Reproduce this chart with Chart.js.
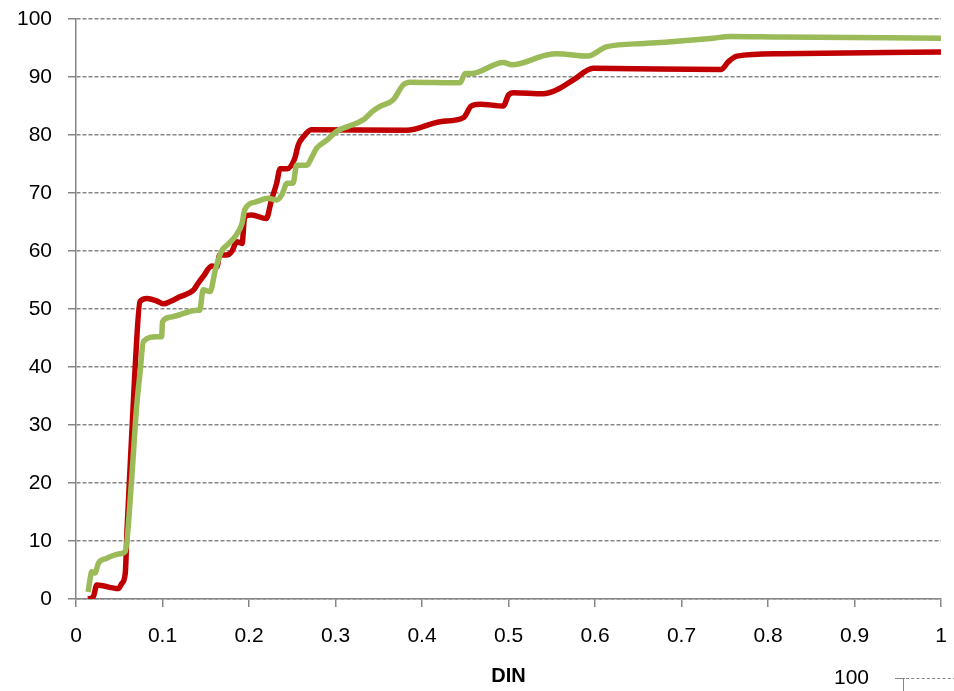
<!DOCTYPE html>
<html>
<head>
<meta charset="utf-8">
<script src="https://cdn.jsdelivr.net/npm/chart.js@4/dist/chart.umd.min.js"></script>
<style>
html,body{margin:0;padding:0;background:#fff;}
#wrap{position:relative;width:954px;height:691px;overflow:hidden;}
#c{position:absolute;left:0;top:0;}
.frag{position:absolute;font-family:"Liberation Sans","Open Sans",sans-serif;font-size:21px;color:#000;}
</style>
</head>
<body>
<div id="wrap">
<canvas id="c" width="954" height="691"></canvas>
<div class="frag" style="left:834px;top:665px;">100</div>
<div style="position:absolute;left:895px;top:678px;width:10px;height:0;border-top:1.5px solid #868686;"></div>
<div style="position:absolute;left:903px;top:678px;width:0;height:14px;border-left:1.5px solid #868686;"></div>
<div style="position:absolute;left:906px;top:678px;width:50px;height:0;border-top:1.5px dashed #868686;"></div>
</div>
<script>
const greenX = [0.014,0.017,0.018,0.022,0.026,0.035,0.051,0.057,0.064,0.070,0.074,0.078,0.093,0.099,0.100,0.109,0.140,0.143,0.147,0.155,0.161,0.168,0.176,0.184,0.192,0.195,0.209,0.222,0.232,0.238,0.244,0.251,0.255,0.267,0.272,0.278,0.290,0.301,0.313,0.332,0.338,0.342,0.351,0.367,0.378,0.386,0.444,0.450,0.457,0.494,0.504,0.544,0.556,0.592,0.613,0.660,0.737,0.756,0.814,1.0];
const greenY = [1.2,4.1,4.7,4.5,6.2,7.0,7.8,8.2,20,33,39,44.4,45.2,45.2,47.8,48.6,49.8,49.8,53.3,53.0,56.7,59.9,61.2,62.5,64.8,67.1,68.5,69.1,68.8,69.7,71.7,71.7,74.8,74.8,76.0,77.7,79.1,80.6,81.4,82.6,83.4,84.0,84.9,86.1,88.6,89.1,89.0,90.6,90.6,92.5,92.1,93.8,94.0,93.6,95.2,95.8,96.7,97.0,96.9,96.7];
const redX = [0.014,0.020,0.024,0.049,0.053,0.057,0.059,0.065,0.068,0.074,0.082,0.093,0.101,0.109,0.120,0.136,0.141,0.147,0.157,0.163,0.166,0.174,0.180,0.186,0.192,0.195,0.203,0.220,0.226,0.232,0.236,0.244,0.253,0.257,0.263,0.272,0.382,0.421,0.448,0.457,0.467,0.494,0.500,0.506,0.540,0.556,0.575,0.598,0.746,0.754,0.764,0.814,1.0];
const redY = [0,0.4,2.4,1.8,2.7,4.5,11.9,30,38.9,51.3,51.8,51.4,50.9,51.3,52.1,53.3,54.4,55.6,57.4,57.3,59.3,59.3,59.9,61.6,61.3,65.9,66.2,65.6,68.8,71.7,74.2,74.2,76.0,78.3,79.7,80.9,80.8,82.3,83.0,85.0,85.3,85.0,86.9,87.3,87.1,87.8,89.5,91.5,91.3,92.6,93.6,94.0,94.3];
const xTickStep = 0.1;
const yTickStep = 10;
const xTitle = "DIN";

const toPts = (xs, ys) => xs.map((x, i) => ({x: x, y: ys[i]}));
const axisColor = '#868686';
const font = {family: '"Liberation Sans","Open Sans",sans-serif', size: 21};

new Chart(document.getElementById('c'), {
  type: 'line',
  data: {
    datasets: [
      {data: toPts(greenX, greenY), borderColor: '#9BBB59', borderWidth: 5.5, pointRadius: 0, cubicInterpolationMode: 'monotone', fill: false},
      {data: toPts(redX, redY), borderColor: '#C00000', borderWidth: 5.5, pointRadius: 0, cubicInterpolationMode: 'monotone', fill: false}
    ]
  },
  options: {
    responsive: false,
    animation: false,
    layout: {padding: {top: 19, right: 13, left: 0, bottom: 0}},
    plugins: {legend: {display: false}, tooltip: {enabled: false}},
    scales: {
      x: {
        type: 'linear', min: 0, max: 1,
        ticks: {stepSize: xTickStep, color: '#000', font: font, padding: 17, maxRotation: 0,
          callback: v => String(Number(v.toFixed(1)))},
        grid: {drawOnChartArea: false, drawTicks: true, tickLength: 8, color: axisColor, lineWidth: 1.5, tickBorderDash: []},
        border: {display: true, color: axisColor, width: 1.5},
        title: {display: true, text: xTitle, color: '#000', font: {family: font.family, size: 20, weight: 'bold'}, padding: {top: 10, bottom: 3}},
        afterFit: s => { s.height = 92; s.paddingLeft = 0; s.paddingRight = 0; }
      },
      y: {
        min: 0, max: 100,
        ticks: {stepSize: yTickStep, color: '#000', font: font, padding: 16},
        grid: {color: axisColor, lineWidth: 1.5, tickLength: 8, tickBorderDash: [], tickColor: axisColor, tickWidth: 1.5},
        border: {display: true, color: axisColor, width: 1.5, dash: [4, 2]},
        afterFit: s => { s.width = 76; s.paddingTop = 0; s.paddingBottom = 0; }
      }
    }
  }
});
</script>
</body>
</html>
